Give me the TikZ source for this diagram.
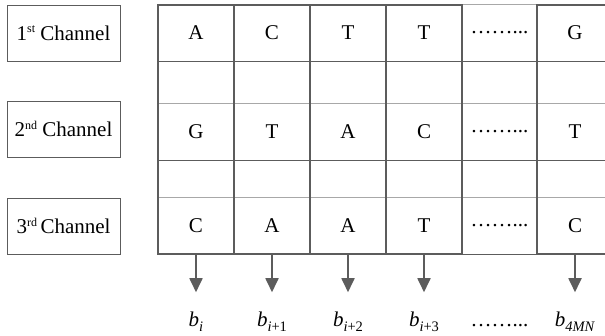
\documentclass[tikz,border=0pt]{standalone}
\usepackage{fontspec}
\setmainfont{Liberation Serif}
\usetikzlibrary{arrows.meta}

\definecolor{framegray}{HTML}{5C5C5C}
\definecolor{rulegray}{HTML}{A8A8A8}

% raised/lowered indices at a fixed size
\newcommand{\chsup}[1]{\raisebox{7.5pt}{\fontsize{12}{12}\selectfont #1}}
\newcommand{\bsub}[1]{\textit{b}\raisebox{-4.5pt}{\fontsize{14.5}{14.5}\selectfont #1}}

\tikzset{
  every node/.style={font=\fontsize{21}{25}\selectfont},
  chan/.style={draw=framegray, line width=0.9pt, minimum width=113pt, minimum height=56pt, inner sep=0pt},
  cell/.style={minimum width=75.8pt, minimum height=56pt, inner sep=0pt},
  colframe/.style={draw=framegray, line width=2.2pt},
  darkrule/.style={draw=framegray, line width=1.2pt},
  lightrule/.style={draw=rulegray, line width=1.4pt},
  blabel/.style={anchor=base, inner sep=0pt},
  outarrow/.style={draw=framegray, line width=1.8pt, shorten >=20pt, -{Triangle[length=14pt,width=13pt]}},
}

\begin{document}
\begin{tikzpicture}[x=1pt,y=-1pt]
\clip (0,0) rectangle (605,336);

% channel labels
\node[chan] (ch1) at (63.5,33) {1\chsup{st} Channel};
\node[chan] (ch2) at (63.5,129) {2\chsup{nd} Channel};
\node[chan] (ch3) at (63.5,226) {3\chsup{rd}\,Channel};

% first channel row
\node[cell] (c11) at (196,33) {A};
\node[cell] (c12) at (272,33) {C};
\node[cell] (c13) at (348,33) {T};
\node[cell] (c14) at (424,33) {T};
\node[cell] (c15) at (499.5,33) {……...};
\node[cell] (c16) at (575,33) {G};

% second channel row
\node[cell] (c21) at (196,132) {G};
\node[cell] (c22) at (272,132) {T};
\node[cell] (c23) at (348,132) {A};
\node[cell] (c24) at (424,132) {C};
\node[cell] (c25) at (499.5,132) {……...};
\node[cell] (c26) at (575,132) {T};

% third channel row
\node[cell] (c31) at (196,226) {C};
\node[cell] (c32) at (272,226) {A};
\node[cell] (c33) at (348,226) {A};
\node[cell] (c34) at (424,226) {T};
\node[cell] (c35) at (499.5,226) {……...};
\node[cell] (c36) at (575,226) {C};

% horizontal rules of the grid
\draw[lightrule] (c11.north west) -- (c16.north east);
\draw[darkrule] (c11.south west) -- (c16.south east);
\draw[lightrule] (c21.north west) -- (c26.north east);
\draw[darkrule] (c21.south west) -- (c26.south east);
\draw[lightrule] (c31.north west) -- (c36.north east);
\draw[darkrule] (c31.south west) -- (c36.south east);

% one frame per column
\draw[colframe] (c11.north west) rectangle (c31.south east);
\draw[colframe] (c12.north west) rectangle (c32.south east);
\draw[colframe] (c13.north west) rectangle (c33.south east);
\draw[colframe] (c14.north west) rectangle (c34.south east);
\draw[colframe] (c16.north west) rectangle (c36.south east);

% output bits
\node[blabel] (b1) at (196,327) {\bsub{\textit{i}}};
\node[blabel] (b2) at (272,327) {\bsub{\textit{i}+1}};
\node[blabel] (b3) at (348,327) {\bsub{\textit{i}+2}};
\node[blabel] (b4) at (424,327) {\bsub{\textit{i}+3}};
\node[blabel] (b5) at (499.5,327) {……...};
\node[blabel] (b6) at (575,327) {\bsub{\textit{4MN}}};

\draw[outarrow] (c31.south) -- (b1.north);
\draw[outarrow] (c32.south) -- (b2.north);
\draw[outarrow] (c33.south) -- (b3.north);
\draw[outarrow] (c34.south) -- (b4.north);
\draw[outarrow] (c36.south) -- (b6.north);
\end{tikzpicture}
\end{document}
